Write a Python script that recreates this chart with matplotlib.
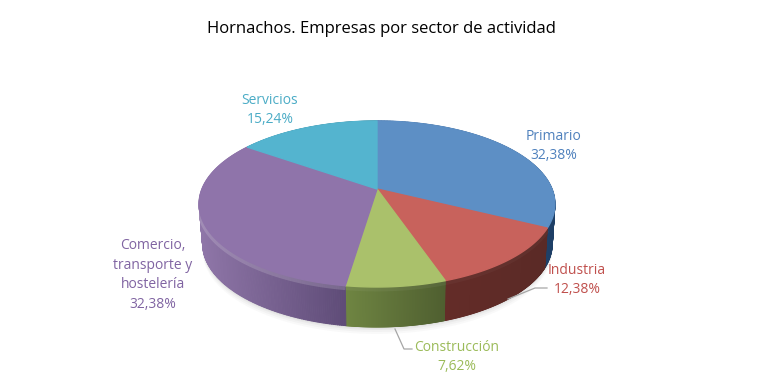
import numpy as np
import matplotlib
matplotlib.use('Agg')
import matplotlib.pyplot as plt
from matplotlib.patches import Polygon
from matplotlib.collections import PolyCollection
from matplotlib.colors import LinearSegmentedColormap

# Datos del grafico
sectores = ['Primario', 'Industria', 'Construcción',
            'Comercio,\ntransporte y\nhostelería', 'Servicios']
valores = [32.38, 12.38, 7.62, 32.38, 15.24]
etiquetas = ['32,38%', '12,38%', '7,62%', '32,38%', '15,24%']

colores = ['#5D8FC5', '#C8625C', '#AAC16B', '#8F74AA', '#54B4CF']
colores_texto = ['#4F81BD', '#C0504D', '#9BBB59', '#8064A2', '#4BACC6']
lado_izq = ['#2A5488', '#642C28', '#6F8542', '#8F76A8', '#3A8AA0']
lado_der = ['#1E3F66', '#5A2A26', '#4F5F30', '#5F4C78', '#2E7080']
brillo = [0.0, 0.03, 0.05, 0.16, 0.0]
pos_texto = [(554, 146), (577, 280), (457, 357), (153, 275), (270, 110)]

# Perspectiva del disco (pixeles de la imagen)
CX, CY = 377, 189
ANCHO, ALTO = 175, 80.3
K = 0.1806
FONDO = 40


def perimetro(a0, a1, n=120):
    t = np.radians(np.linspace(a0, a1, n))
    u, v = np.sin(t), np.cos(t)
    d = 1 + K * v
    return CX + ANCHO * u / d, CY - ALTO * v / d


def fondo(x, y):
    escala = np.where(x > CX, 0.985, 0.98)
    return CX + (x - CX) * escala, y + FONDO


plt.rcParams['font.family'] = ['Open Sans', 'DejaVu Sans']
fig = plt.figure(figsize=(7.65, 3.82), dpi=100)
ax = fig.add_axes([0, 0, 1, 1])
ax.set_xlim(0, 765)
ax.set_ylim(382, 0)
ax.axis('off')

angulos = np.concatenate([[0], np.cumsum(valores) / np.sum(valores) * 360])

# Sombra suave debajo del disco
x, y = perimetro(0, 360, 240)
xf, yf = fondo(x, y)
for crece, alfa in zip([7, 5, 3, 1.5], [0.03, 0.04, 0.05, 0.06]):
    ax.add_patch(Polygon(np.c_[xf, yf + crece], color='#555555',
                         alpha=alfa, lw=0, zorder=1))

# Lados con degradado, hechos con cuadrilateros finos
for i in range(len(valores)):
    x, y = perimetro(angulos[i], angulos[i + 1], 200)
    xf, yf = fondo(x, y)
    cmap = LinearSegmentedColormap.from_list('l', [lado_izq[i], lado_der[i]])
    quads = []
    tonos = []
    for j in range(len(x) - 1):
        quads.append([(x[j], y[j]), (x[j + 1], y[j + 1]),
                      (xf[j + 1], yf[j + 1]), (xf[j], yf[j])])
        tonos.append(cmap((x[j] - x.min()) / (x.max() - x.min())))
    ax.add_collection(PolyCollection(quads, facecolors=tonos, edgecolors=tonos,
                                     linewidths=0.7, zorder=2))

# Brillo del borde
for i in range(len(valores)):
    x, y = perimetro(angulos[i], angulos[i + 1])
    ax.plot(x, y + 2, color='white', lw=3.5, alpha=brillo[i], zorder=3,
            solid_capstyle='butt')

# Cara superior
for i in range(len(valores)):
    x, y = perimetro(angulos[i], angulos[i + 1])
    pts = np.r_[[[CX, CY]], np.c_[x, y]]
    ax.add_patch(Polygon(pts, facecolor=colores[i], edgecolor=colores[i],
                         lw=1.0, zorder=4))

# Lineas guia
ax.plot([508, 535, 547], [299, 288, 288], color='#A6A6A6', lw=0.9, zorder=5)
ax.plot([395, 404, 412], [329, 349, 349], color='#A6A6A6', lw=0.9, zorder=5)

# Etiquetas
for i in range(len(valores)):
    ax.text(pos_texto[i][0], pos_texto[i][1],
            sectores[i] + '\n' + etiquetas[i], color=colores_texto[i],
            fontsize=10, ha='center', va='center', linespacing=1.4, zorder=6)

ax.text(381.5, 29, 'Hornachos. Empresas por sector de actividad', color='black',
        fontsize=11.95, ha='center', va='center')

fig.savefig('out.png', dpi=100)
